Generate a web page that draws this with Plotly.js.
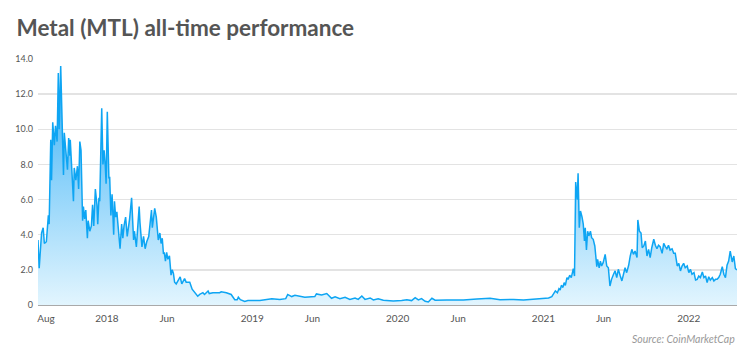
<!DOCTYPE html>
<html>
<head>
<meta charset="utf-8">
<script src="https://cdn.plot.ly/plotly-3.0.1.min.js"></script>
<style>
  html, body { margin: 0; padding: 0; background: #ffffff; }
  #chart { width: 750px; height: 354px; }
</style>
</head>
<body>
<div id="chart"></div>
<script>
const dates = [
  "2017-07-12","2017-07-15","2017-07-21","2017-07-25","2017-07-28","2017-08-02","2017-08-07","2017-08-09",
  "2017-08-13","2017-08-15","2017-08-18","2017-08-22","2017-08-25","2017-08-29","2017-09-01","2017-09-03",
  "2017-09-07","2017-09-10","2017-09-14","2017-09-16","2017-09-20","2017-09-24","2017-09-27","2017-09-30",
  "2017-10-01","2017-10-05","2017-10-09","2017-10-11","2017-10-15","2017-10-19","2017-10-22","2017-10-25",
  "2017-10-28","2017-11-01","2017-11-03","2017-11-06","2017-11-09","2017-11-13","2017-11-15","2017-11-19",
  "2017-11-23","2017-11-26","2017-11-29","2017-12-03","2017-12-07","2017-12-09","2017-12-12","2017-12-14",
  "2017-12-19","2017-12-22","2017-12-25","2017-12-28","2017-12-30","2018-01-02","2018-01-06","2018-01-08",
  "2018-01-11","2018-01-14","2018-01-18","2018-01-20","2018-01-23","2018-01-26","2018-01-29","2018-02-03",
  "2018-02-07","2018-02-10","2018-02-13","2018-02-17","2018-02-21","2018-02-24","2018-02-27","2018-03-04",
  "2018-03-06","2018-03-09","2018-03-11","2018-03-16","2018-03-19","2018-03-23","2018-03-25","2018-03-30",
  "2018-04-03","2018-04-07","2018-04-11","2018-04-16","2018-04-23","2018-04-25","2018-05-01","2018-05-05",
  "2018-05-10","2018-05-14","2018-05-17","2018-05-20","2018-05-23","2018-05-25","2018-05-28","2018-05-31",
  "2018-06-03","2018-06-07","2018-06-11","2018-06-14","2018-06-17","2018-06-20","2018-06-24","2018-06-29",
  "2018-07-04","2018-07-08","2018-07-15","2018-07-19","2018-07-28","2018-08-03","2018-08-12","2018-08-17",
  "2018-08-22","2018-08-30","2018-09-03","2018-09-07","2018-09-12","2018-09-15","2018-09-24","2018-10-11",
  "2018-10-15","2018-10-28","2018-11-09","2018-11-18","2018-11-24","2018-11-27","2018-12-02","2018-12-13",
  "2018-12-21","2019-01-20","2019-02-06","2019-02-19","2019-03-11","2019-03-26","2019-03-31","2019-04-10",
  "2019-04-18","2019-05-01","2019-05-13","2019-06-07","2019-06-11","2019-06-24","2019-07-07","2019-07-19",
  "2019-07-28","2019-08-09","2019-08-22","2019-09-03","2019-09-16","2019-09-24","2019-10-03","2019-10-11",
  "2019-10-24","2019-11-01","2019-11-13","2019-11-26","2019-12-21","2020-01-11","2020-01-24","2020-02-05",
  "2020-02-14","2020-02-22","2020-03-01","2020-03-10","2020-03-18","2020-03-27","2020-04-04","2020-05-03",
  "2020-06-14","2020-07-18","2020-08-20","2020-09-14","2020-10-18","2020-11-12","2020-12-07","2020-12-28",
  "2021-01-05","2021-01-14","2021-01-22","2021-01-31","2021-02-05","2021-02-09","2021-02-12","2021-02-15",
  "2021-02-19","2021-02-22","2021-02-25","2021-03-01","2021-03-04","2021-03-08","2021-03-12","2021-03-17",
  "2021-03-20","2021-03-23","2021-03-27","2021-03-29","2021-04-01","2021-04-04","2021-04-08","2021-04-11",
  "2021-04-14","2021-04-16","2021-04-19","2021-04-22","2021-04-25","2021-04-29","2021-05-02","2021-05-06",
  "2021-05-10","2021-05-15","2021-05-17","2021-05-21","2021-05-24","2021-05-27","2021-05-31","2021-06-05",
  "2021-06-09","2021-06-13","2021-06-17","2021-06-21","2021-06-26","2021-06-30","2021-07-04","2021-07-08",
  "2021-07-13","2021-07-17","2021-07-21","2021-07-25","2021-07-29","2021-08-03","2021-08-07","2021-08-11",
  "2021-08-15","2021-08-19","2021-08-24","2021-08-26","2021-08-30","2021-09-03","2021-09-06","2021-09-10",
  "2021-09-14","2021-09-18","2021-09-22","2021-09-26","2021-09-30","2021-10-05","2021-10-09","2021-10-13",
  "2021-10-17","2021-10-21","2021-10-26","2021-10-30","2021-11-03","2021-11-07","2021-11-11","2021-11-15",
  "2021-11-20","2021-11-24","2021-11-28","2021-12-03","2021-12-07","2021-12-11","2021-12-15","2021-12-19",
  "2021-12-23","2021-12-28","2022-01-01","2022-01-05","2022-01-09","2022-01-14","2022-01-18","2022-01-22",
  "2022-01-26","2022-01-30","2022-02-04","2022-02-08","2022-02-12","2022-02-16","2022-02-20","2022-02-24",
  "2022-03-01","2022-03-05","2022-03-09","2022-03-13","2022-03-17","2022-03-21","2022-03-26","2022-03-30",
  "2022-04-03","2022-04-07","2022-04-11","2022-04-15","2022-04-20","2022-04-24","2022-04-28","2022-05-02"
];
const prices = [
  3.7,2.1,4.1,4.4,3.5,3.6,5.1,4.6,
  9.4,7.1,10.4,9.1,10.2,9.3,13.2,10.0,
  13.6,10.6,7.4,9.8,8.6,7.7,9.5,8.5,
  9.4,7.6,5.9,7.8,7.1,7.9,6.6,9.3,
  8.8,4.8,5.6,4.9,5.4,3.8,4.8,4.2,
  4.5,5.7,4.5,6.6,5.7,4.6,6.1,5.9,
  11.2,8.0,8.8,7.9,6.9,11.0,7.2,7.3,
  5.1,6.3,4.0,5.9,5.0,5.3,4.5,3.2,
  4.6,3.8,4.5,5.0,3.9,4.3,4.9,6.1,
  5.2,3.7,4.2,3.3,4.3,5.6,4.7,3.3,
  3.9,3.2,3.6,3.9,5.4,4.4,5.5,5.0,
  3.7,4.1,3.5,3.8,2.9,3.0,2.5,3.0,
  2.6,2.8,1.7,2.0,1.8,1.3,1.2,1.4,
  1.6,1.2,1.5,1.3,1.3,0.9,0.6,0.5,
  0.6,0.7,0.6,0.7,0.8,0.65,0.7,0.7,
  0.75,0.7,0.6,0.3,0.3,0.45,0.3,0.2,
  0.25,0.25,0.29,0.36,0.32,0.36,0.6,0.48,
  0.55,0.48,0.44,0.48,0.63,0.57,0.65,0.38,
  0.46,0.36,0.44,0.32,0.4,0.32,0.51,0.32,
  0.4,0.29,0.36,0.27,0.23,0.25,0.3,0.25,
  0.42,0.29,0.36,0.21,0.17,0.38,0.27,0.29,
  0.29,0.34,0.38,0.3,0.32,0.29,0.34,0.4,
  0.42,0.4,0.48,0.8,0.7,0.93,0.85,1.12,
  1.0,1.27,1.12,1.56,1.46,1.69,1.56,2.07,
  1.65,7.0,6.0,7.5,4.4,5.35,5.0,4.6,
  3.64,4.4,3.13,4.2,3.93,4.2,3.83,3.74,
  3.36,2.18,2.6,2.12,2.5,2.22,2.41,2.88,
  2.22,2.12,1.08,1.46,1.75,1.94,1.56,2.03,
  1.65,1.37,1.75,2.12,1.84,2.26,2.79,3.17,
  2.88,3.07,2.7,4.84,4.2,4.1,3.26,3.36,
  3.64,2.79,3.17,2.7,3.26,3.74,3.4,3.2,
  3.4,3.32,2.94,3.51,3.32,3.2,3.4,3.13,
  3.2,2.94,2.94,2.22,2.37,1.94,2.22,2.37,
  2.12,2.22,1.84,2.03,1.75,1.84,1.42,1.46,
  1.65,1.56,1.88,1.56,1.65,1.27,1.61,1.42,
  1.56,1.37,1.46,1.46,1.56,1.75,2.18,1.75,
  1.56,2.26,2.5,3.07,2.45,2.79,2.07,2.0
];
const xTickVals = ["2017-08-01","2018-01-01","2018-06-01","2019-01-01","2019-06-01","2020-01-01","2020-06-01","2021-01-01","2021-06-01","2022-01-01"];
const xTickText = ["Aug","2018","Jun","2019","Jun","2020","Jun","2021","Jun","2022"];
const yTickVals = [0,2,4,6,8,10,12,14];
const yTickText = ["0","2.0","4.0","6.0","8.0","10.0","12.0","14.0"];

const trace = {
  x: dates,
  y: prices,
  type: "scatter",
  mode: "lines",
  line: { color: "#0ea5f3", width: 1.5 },
  fill: "tozeroy",
  fillgradient: {
    type: "vertical",
    start: 0,
    stop: 14,
    colorscale: [[0, "rgba(226,245,254,1)"], [0.5, "rgba(140,210,250,1)"], [1, "rgba(40,170,245,1)"]]
  },
  hoverinfo: "skip"
};

const layout = {
  width: 750,
  height: 354,
  margin: { l: 38, r: 13, t: 59, b: 49 },
  paper_bgcolor: "#ffffff",
  plot_bgcolor: "#ffffff",
  showlegend: false,
  font: { family: "Lato, 'Open Sans', sans-serif", color: "#666666", size: 10 },
  title: {
    text: "<b>Metal (MTL) all-time performance</b>",
    font: { family: "Lato, 'Open Sans', sans-serif", size: 22.5, color: "#555555" },
    x: 0.022, xanchor: "left", y: 0.92, yanchor: "middle"
  },
  xaxis: {
    type: "date",
    range: ["2017-07-12", "2022-05-02"],
    tickvals: xTickVals,
    ticktext: xTickText,
    showgrid: false,
    zeroline: false,
    showline: false,
    ticks: "",
    tickfont: { size: 10, color: "#555555" },
    ticklabelstandoff: 6
  },
  yaxis: {
    range: [0, 14],
    tickvals: yTickVals,
    ticktext: yTickText,
    showgrid: true,
    gridcolor: "#e3e3e3",
    gridwidth: 1.5,
    zeroline: true,
    zerolinecolor: "#a9a9a9",
    zerolinewidth: 2,
    ticks: "",
    tickfont: { size: 9, color: "#555555" },
    ticklabelstandoff: 4
  },
  annotations: [{
    text: "<i>Source: CoinMarketCap</i>",
    xref: "paper", yref: "paper",
    x: 1, y: -0.14, xanchor: "right", yanchor: "middle",
    showarrow: false,
    font: { family: "Lato, 'Open Sans', sans-serif", size: 10.5, color: "#999999" }
  }]
};

Plotly.newPlot("chart", [trace], layout, { displayModeBar: false, staticPlot: true });
</script>
</body>
</html>
